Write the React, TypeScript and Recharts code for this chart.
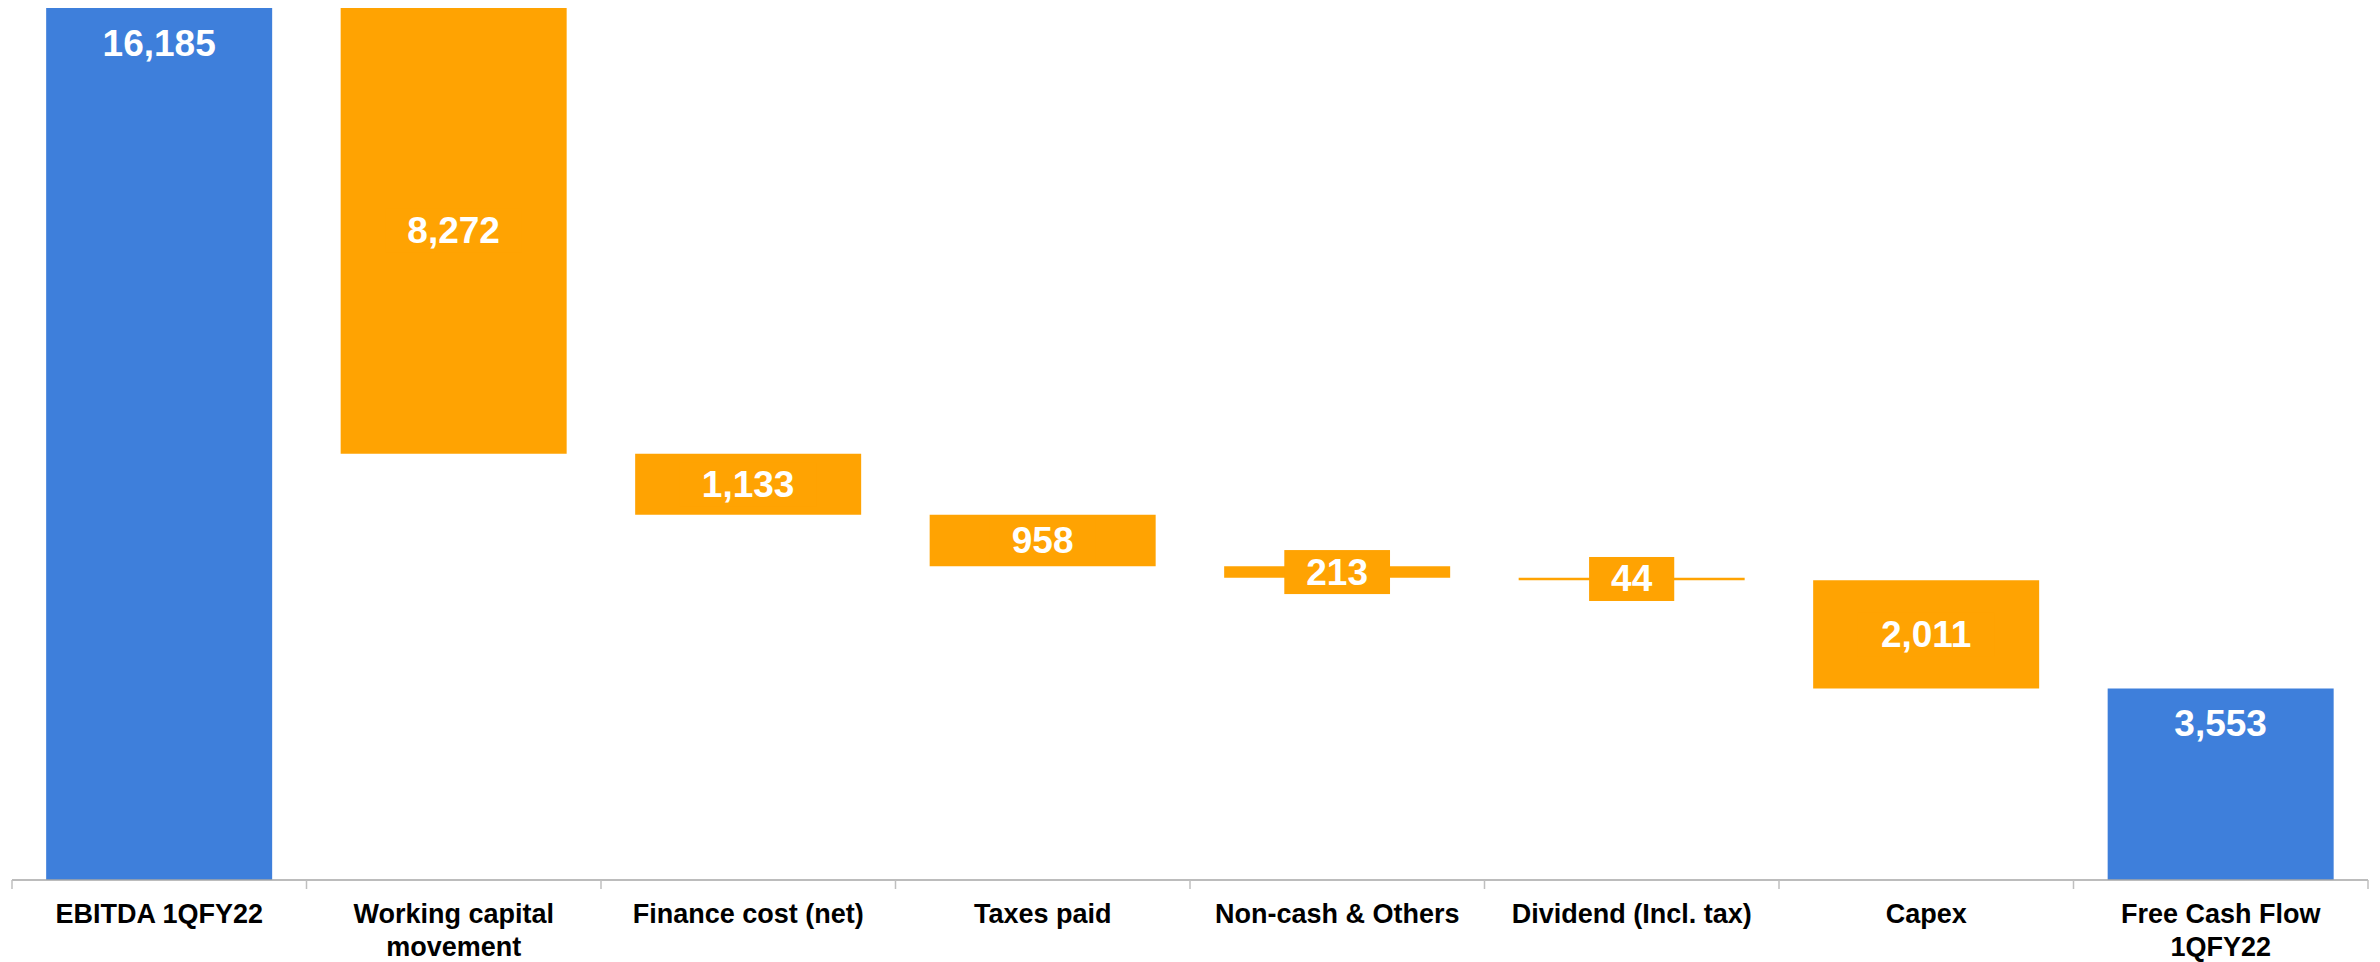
import { BarChart, Bar, XAxis, YAxis, Cell, LabelList } from "recharts"

const categories = [
  "EBITDA 1QFY22",
  "Working capital movement",
  "Finance cost (net)",
  "Taxes paid",
  "Non-cash & Others",
  "Dividend (Incl. tax)",
  "Capex",
  "Free Cash Flow 1QFY22",
]
const tickLines = [
  ["EBITDA 1QFY22"],
  ["Working capital", "movement"],
  ["Finance cost (net)"],
  ["Taxes paid"],
  ["Non-cash & Others"],
  ["Dividend (Incl. tax)"],
  ["Capex"],
  ["Free Cash Flow", "1QFY22"],
]
const values = [16185, 8272, 1133, 958, 213, 44, 2011, 3553]
const kinds = ["total", "down", "down", "down", "down", "down", "down", "total"]

const BLUE = "#3E7FDB"
const ORANGE = "#FFA302"
const FONT = "'Liberation Sans', Arial, sans-serif"

// waterfall: invisible base + visible step
const buildData = () => {
  let running = 0
  return categories.map((name, i) => {
    const v = values[i]
    let base = 0
    if (kinds[i] === "total") {
      running = v
    } else {
      running = running - v
      base = running
    }
    return { name, base, delta: v, kind: kinds[i] }
  })
}

const data = buildData()

const fmt = (v: number) => v.toLocaleString("en-US")

const ValueLabel = (props: any) => {
  const { x, y, width, height, value, index } = props
  const cx = x + width / 2
  const text = fmt(value)
  if (kinds[index] === "total") {
    return (
      <text x={cx} y={y + 35} fill="#fff" fontSize={37} fontWeight="bold" fontFamily={FONT} textAnchor="middle" dominantBaseline="central">
        {text}
      </text>
    )
  }
  const cy = y + height / 2
  const tw = text.replace(/,/g, "").length * 0.556 * 37 + (text.includes(",") ? 0.278 * 37 : 0)
  const bw = tw + 44
  return (
    <g>
      <rect x={cx - bw / 2} y={cy - 22} width={bw} height={44} fill={ORANGE} />
      <text x={cx} y={cy} fill="#fff" fontSize={37} fontWeight="bold" fontFamily={FONT} textAnchor="middle" dominantBaseline="central">
        {text}
      </text>
    </g>
  )
}

const CategoryTick = (props: any) => {
  const { x, y, payload, index, visibleTicksCount, width } = props
  const count = visibleTicksCount || categories.length
  const half = (width ? width / count : 2356 / count) / 2
  const lines = tickLines[index] || [payload.value]
  return (
    <g>
      <line x1={x - half} x2={x - half} y1={y} y2={y + 9} stroke="#BFBFBF" strokeWidth={1.5} />
      {index === count - 1 && <line x1={x + half} x2={x + half} y1={y} y2={y + 9} stroke="#BFBFBF" strokeWidth={1.5} />}
      {lines.map((l: string, k: number) => (
        <text key={k} x={x} y={y + 34 + k * 33} fill="#000" fontSize={27} fontWeight="bold" fontFamily={FONT} textAnchor="middle" dominantBaseline="central">
          {l}
        </text>
      ))}
    </g>
  )
}

export default function App() {
  return (
    <BarChart width={2372} height={954} data={data} margin={{ top: 0, right: 12, left: 4, bottom: 0 }} barCategoryGap="11.6%">
      <XAxis
        dataKey="name"
        height={82}
        interval={0}
        tickLine={false}
        tickSize={0}
        tickMargin={0}
        axisLine={{ stroke: "#A6A6A6", strokeWidth: 1.5 }}
        tick={<CategoryTick />}
      />
      <YAxis hide domain={[0, "dataMax"]} />
      <Bar dataKey="base" stackId="w" fill="transparent" isAnimationActive={false} />
      <Bar dataKey="delta" stackId="w" isAnimationActive={false}>
        {data.map((d, i) => (
          <Cell key={i} fill={d.kind === "total" ? BLUE : ORANGE} />
        ))}
        <LabelList dataKey="delta" content={<ValueLabel />} />
      </Bar>
    </BarChart>
  )
}
